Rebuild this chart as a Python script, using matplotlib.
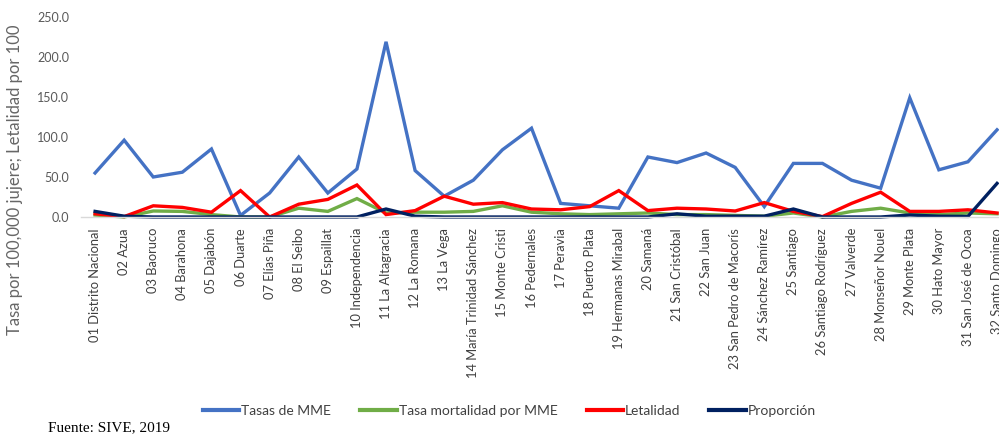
import matplotlib.pyplot as plt
import numpy as np

provincias = [
    '01 Distrito Nacional', '02 Azua', '03 Baoruco', '04 Barahona', '05 Dajabón',
    '06 Duarte', '07 Elías Piña', '08 El Seibo', '09 Espaillat', '10 Independencia',
    '11 La Altagracia', '12 La Romana', '13 La Vega', '14 María Trinidad Sánchez',
    '15 Monte Cristi', '16 Pedernales', '17 Peravia', '18 Puerto Plata',
    '19 Hermanas Mirabal', '20 Samaná', '21 San Cristóbal', '22 San Juan',
    '23 San Pedro de Macorís', '24 Sánchez Ramírez', '25 Santiago',
    '26 Santiago Rodríguez', '27 Valverde', '28 Monseñor Nouel', '29 Monte Plata',
    '30 Hato Mayor', '31 San José de Ocoa', '32 Santo Domingo',
]

tasas_mme = [55, 96, 50, 56, 85, 2, 30, 75, 30, 60, 219, 58, 26, 46, 84, 111,
             17, 14, 11, 75, 68, 80, 62, 13, 67, 67, 46, 36, 149, 59, 69, 109]
tasa_mortalidad = [2.5, 0, 7.5, 7, 3, 0, 0, 11, 7, 23, 5, 6, 6, 7, 14, 6,
                   4, 3, 4, 5, 3, 3, 2, 1, 5, 0, 7, 11, 5, 3, 5, 4]
letalidad = [4, 0.5, 14, 12, 6, 33, 0, 16, 22, 40, 3, 8, 26, 16, 18, 10,
             9, 13, 33, 8, 11, 10, 7.5, 18, 7, 0.5, 17, 31, 7, 7, 9, 5]
proporcion = [7, 1, 0, 0, 0, 0, 0, 0, 0, 0, 10, 1, 0, 0, 0, 0,
              0, 0, 0, 0, 4, 1, 1, 1, 10, 0, 0, 0, 2.5, 1, 0.7, 42]

series = [
    ('Tasas de MME', tasas_mme, '#4472C4'),
    ('Tasa mortalidad por MME', tasa_mortalidad, '#70AD47'),
    ('Letalidad', letalidad, '#FF0000'),
    ('Proporción', proporcion, '#002060'),
]

plt.rcParams['font.family'] = ['Lato', 'DejaVu Sans']

fig = plt.figure(figsize=(9.99, 4.36), dpi=100)
# the plot area runs past the right edge of the page, as in the report
ax = fig.add_axes([0.0806, 0.5023, 0.932, 0.4587])

x = np.arange(len(provincias))
for nombre, valores, color in series:
    ax.plot(x, valores, color=color, linewidth=2.4, label=nombre,
            solid_joinstyle='miter', clip_on=False)

ax.set_xlim(-0.5, len(provincias) - 0.5)
ax.set_ylim(0, 250)
ax.set_yticks(np.arange(0, 251, 50))
ax.set_yticklabels([f'{v:.1f}' for v in np.arange(0, 251, 50)])
ax.set_xticks(x)
ax.set_xticklabels(provincias, rotation=90, fontsize=9.3, color='#404040')

for lado in ['top', 'right', 'left']:
    ax.spines[lado].set_visible(False)
ax.spines['bottom'].set_color('#D9D9D9')
ax.spines['bottom'].set_linewidth(1.0)
ax.tick_params(axis='x', length=0, pad=8)
ax.tick_params(axis='y', length=0, pad=8, labelsize=9, labelcolor='#595959')

fig.text(0.015, 1 - 180 / 436, 'Tasa por 100,000 jujere; Letalidad por 100',
         rotation=90, va='center', ha='center', fontsize=12, color='#666666')

leg = fig.legend(loc='center', bbox_to_anchor=(0.51, 1 - 411 / 436), ncol=4,
                 frameon=False, fontsize=10, handlelength=2.6, handletextpad=0.15,
                 columnspacing=2.1, labelcolor='#404040')
for linea in leg.get_lines():
    linea.set_linewidth(3.0)

fig.text(0.048, 1 - 428 / 436, 'Fuente: SIVE, 2019', family='Liberation Serif',
         fontsize=11, va='center', ha='left', color='black')

fig.savefig('out.png', dpi=100)
